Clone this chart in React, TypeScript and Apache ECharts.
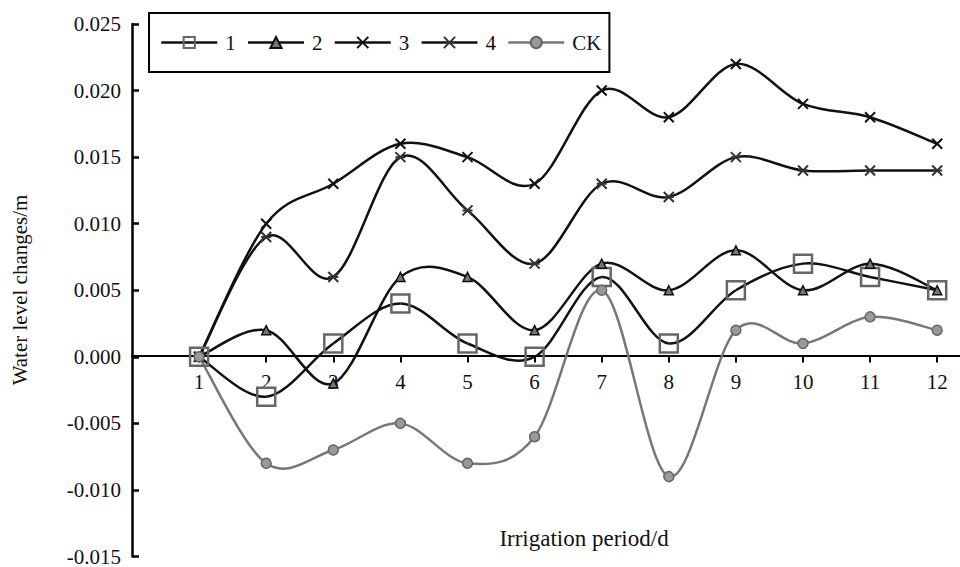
import React, { useEffect, useRef } from "react";
import * as echarts from "echarts";

const periods = [1, 2, 3, 4, 5, 6, 7, 8, 9, 10, 11, 12];
const series1 = [0, -0.003, 0.001, 0.004, 0.001, 0, 0.006, 0.001, 0.005, 0.007, 0.006, 0.005];
const series2 = [0, 0.002, -0.002, 0.006, 0.006, 0.002, 0.007, 0.005, 0.008, 0.005, 0.007, 0.005];
const series3 = [0, 0.010, 0.013, 0.016, 0.015, 0.013, 0.020, 0.018, 0.022, 0.019, 0.018, 0.016];
const series4 = [0, 0.009, 0.006, 0.015, 0.011, 0.007, 0.013, 0.012, 0.015, 0.014, 0.014, 0.014];
const seriesCK = [0, -0.008, -0.007, -0.005, -0.008, -0.006, 0.005, -0.009, 0.002, 0.001, 0.003, 0.002];
const seriesNames = ["1", "2", "3", "4", "CK"];
const xAxisTitle = "Irrigation period/d";
const yAxisTitle = "Water level changes/m";

const FONT = "'Liberation Serif', 'Times New Roman', serif";
const BLACK = "#111";
const GRAY = "#777";

const pairs = (vals: number[]) => periods.map((p, i) => [p, vals[i]]);

// Catmull-Rom style spline (like spreadsheet smoothed lines), drawn through the axes' scales
const splineSeries = (name: string, vals: number[], color: string) => ({
  type: "custom",
  name: name + "-curve",
  data: pairs(vals),
  encode: { x: 0, y: 1 },
  z: 2,
  silent: true,
  renderItem: (params: any, api: any) => {
    const i = params.dataIndex;
    const n = vals.length;
    if (i >= n - 1) return null;
    const pt = (j: number) => {
      const k = Math.max(0, Math.min(n - 1, j));
      return api.coord([periods[k], vals[k]]);
    };
    const p0 = pt(i - 1);
    const p1 = pt(i);
    const p2 = pt(i + 1);
    const p3 = pt(i + 2);
    const t = 1 / 6;
    return {
      type: "bezierCurve",
      shape: {
        x1: p1[0],
        y1: p1[1],
        x2: p2[0],
        y2: p2[1],
        cpx1: p1[0] + (p2[0] - p0[0]) * t,
        cpy1: p1[1] + (p2[1] - p0[1]) * t,
        cpx2: p2[0] - (p3[0] - p1[0]) * t,
        cpy2: p2[1] - (p3[1] - p1[1]) * t,
      },
      style: { stroke: color, lineWidth: 2.5, fill: "none" },
    };
  },
});

export default function App() {
  const ref = useRef<HTMLDivElement>(null);
  useEffect(() => {
    document.body.style.margin = "0";
    if (!ref.current) return;
    const chart = echarts.init(ref.current, null, { renderer: "svg" });
    const lineBase = { type: "line", z: 3, lineStyle: { opacity: 0 } } as any;
    const lineColors = [BLACK, BLACK, BLACK, BLACK, GRAY];
    chart.setOption({
      animation: false,
      backgroundColor: "#ffffff",
      textStyle: { fontFamily: FONT },
      grid: { left: 132, right: 0, top: 24, bottom: 7, containLabel: false },
      legend: {
        left: 149,
        top: 13,
        orient: "horizontal",
        selectedMode: false,
        data: seriesNames.map((nm, i) => ({
          name: nm,
          lineStyle: { color: lineColors[i], width: 2.5, opacity: 1 },
        })),
        itemWidth: 56,
        itemHeight: 14,
        itemGap: 11,
        padding: [19, 8, 19, 11],
        borderColor: "#000",
        borderWidth: 2,
        borderRadius: 0,
        textStyle: { fontFamily: FONT, fontSize: 21, color: BLACK, padding: [0, 0, 0, 3] },
      },
      xAxis: {
        type: "value",
        min: 0,
        max: 12.34,
        offset: -201,
        axisLine: { onZero: false, lineStyle: { color: "#000", width: 2 } },
        axisTick: { show: true, length: 7, lineStyle: { color: "#000", width: 2 }, customValues: periods },
        axisLabel: {
          customValues: periods,
          margin: 16,
          fontFamily: FONT,
          fontSize: 21,
          color: BLACK,
          formatter: (v: number) => String(v),
        },
        splitLine: { show: false },
      },
      yAxis: {
        type: "value",
        min: -0.015,
        max: 0.025,
        interval: 0.005,
        axisLine: { show: true, onZero: false, lineStyle: { color: "#000", width: 2.5 } },
        axisTick: { show: true, inside: true, length: 7, lineStyle: { color: "#000", width: 2.5 } },
        axisLabel: {
          margin: 11,
          fontFamily: FONT,
          fontSize: 21,
          color: BLACK,
          formatter: (v: number) => v.toFixed(3),
        },
        splitLine: { show: false },
      },
      graphic: [
        {
          type: "text",
          x: 20,
          y: 290,
          rotation: Math.PI / 2,
          style: {
            text: yAxisTitle,
            font: `21px ${FONT}`,
            fill: BLACK,
            textAlign: "center",
            textVerticalAlign: "middle",
          },
        },
        {
          type: "text",
          x: 584,
          y: 538,
          style: {
            text: xAxisTitle,
            font: `23px ${FONT}`,
            fill: BLACK,
            textAlign: "center",
            textVerticalAlign: "middle",
          },
        },
      ],
      series: [
        splineSeries("1", series1, BLACK),
        splineSeries("2", series2, BLACK),
        splineSeries("3", series3, BLACK),
        splineSeries("4", series4, BLACK),
        splineSeries("CK", seriesCK, GRAY),
        {
          ...lineBase,
          name: seriesNames[0],
          data: pairs(series1),
          symbol: "rect",
          symbolSize: 18,
          itemStyle: { color: "rgba(255,255,255,0)", borderColor: "#666", borderWidth: 2.5 },
        },
        {
          ...lineBase,
          name: seriesNames[1],
          data: pairs(series2),
          symbol: "triangle",
          symbolSize: 9,
          itemStyle: { color: "#777", borderColor: BLACK, borderWidth: 1.5 },
        },
        {
          ...lineBase,
          name: seriesNames[2],
          data: pairs(series3),
          symbol: "path://M0,0L10,10M10,0L0,10",
          symbolSize: 10,
          itemStyle: { color: "rgba(0,0,0,0)", borderColor: BLACK, borderWidth: 2 },
        },
        {
          ...lineBase,
          name: seriesNames[3],
          data: pairs(series4),
          symbol: "path://M0,0L10,10M10,0L0,10M0,5L10,5",
          symbolSize: 10,
          itemStyle: { color: "rgba(0,0,0,0)", borderColor: "#333", borderWidth: 2 },
        },
        {
          ...lineBase,
          name: seriesNames[4],
          data: pairs(seriesCK),
          symbol: "circle",
          symbolSize: 10,
          itemStyle: { color: "#999", borderColor: "#666", borderWidth: 1.5 },
        },
      ],
    });
    return () => chart.dispose();
  }, []);
  return <div ref={ref} style={{ width: 960, height: 567, position: "absolute", left: 0, top: 0 }} />;
}
